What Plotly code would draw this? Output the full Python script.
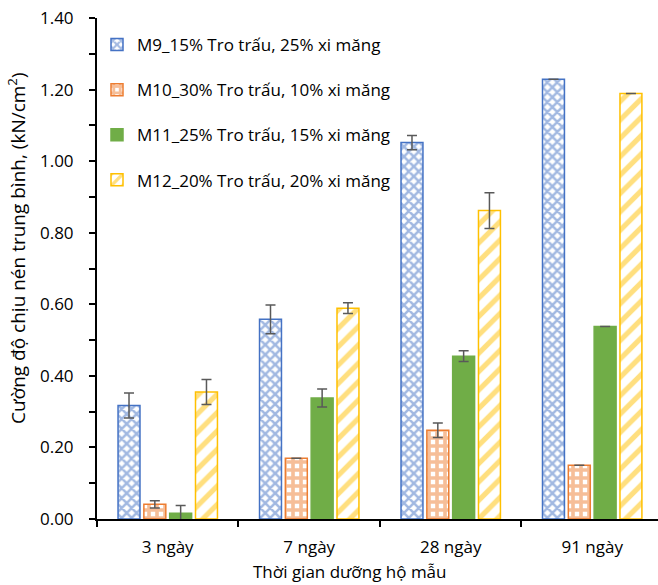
import plotly.graph_objects as go

categories = ["3 ngày", "7 ngày", "28 ngày", "91 ngày"]
series_names = [
    "M9_15% Tro trấu, 25% xi măng",
    "M10_30% Tro trấu, 10% xi măng",
    "M11_25% Tro trấu, 15% xi măng",
    "M12_20% Tro trấu, 20% xi măng",
]
m9 = [0.317, 0.558, 1.052, 1.229]
m9_err = [0.035, 0.040, 0.020, 0.0]
m10 = [0.041, 0.170, 0.248, 0.150]
m10_err = [0.010, 0.0, 0.020, 0.0]
m11 = [0.016, 0.338, 0.455, 0.538]
m11_err = [0.022, 0.025, 0.015, 0.0]
m12 = [0.355, 0.589, 0.862, 1.189]
m12_err = [0.035, 0.015, 0.050, 0.0]
x_title = "Thời gian dưỡng hộ mẫu"
y_title = "Cường độ chịu nén trung bình, (kN/cm<sup>2</sup>)"

values = [m9, m10, m11, m12]
errors = [m9_err, m10_err, m11_err, m12_err]
colors = ["#4472C4", "#ED7D31", "#70AD47", "#FFC000"]
patterns = [
    dict(shape="x", fgcolor="#4472C4", bgcolor="white", size=7, solidity=0.6),
    dict(shape="+", fgcolor="#ED7D31", bgcolor="white", size=8, solidity=0.7),
    dict(shape="", fgcolor="#70AD47"),
    dict(shape="/", fgcolor="#FFC000", bgcolor="white", size=13, solidity=0.4),
]

FONT = "Open Sans"
fig = go.Figure()
for i in range(4):
    fig.add_trace(go.Bar(
        x=categories, y=values[i], name=series_names[i],
        legendgroup=f"g{i}",
        marker=dict(color="white" if i != 2 else colors[i],
                    pattern=patterns[i],
                    line=dict(color=colors[i], width=1.5)),
        error_y=dict(type="data", array=errors[i], visible=True,
                     color="#595959", thickness=1.5, width=5),
    ))

fig.update_layout(
    width=658, height=585,
    margin=dict(l=97, r=0, t=18, b=66),
    paper_bgcolor="white", plot_bgcolor="white",
    font=dict(family=FONT, size=17, color="black"),
    barmode="group", bargap=0.27, bargroupgap=0.15,
    showlegend=True,
    legend=dict(x=0.0, y=0.982, xanchor="left", yanchor="top",
                bgcolor="rgba(0,0,0,0)", tracegroupgap=20,
                font=dict(family=FONT, size=17, color="black")),
    annotations=[
        dict(text=x_title, xref="paper", yref="paper",
             x=(350 - 97) / 561, y=-(571 - 519) / 501,
             xanchor="center", yanchor="middle", showarrow=False,
             font=dict(family=FONT, size=17, color="black")),
        dict(text=y_title, xref="paper", yref="paper",
             x=(17 - 97) / 561, y=(519 - 248) / 501, textangle=-90,
             xanchor="center", yanchor="middle", showarrow=False,
             font=dict(family=FONT, size=19, color="black")),
    ],
)
fig.update_xaxes(
    range=[-0.5, 3.465], showline=True, linecolor="black", linewidth=2,
    ticks="outside", tickson="boundaries", ticklen=6, tickwidth=1.5, tickcolor="black",
    ticklabelstandoff=12,
    showgrid=False, zeroline=False,
)
fig.update_yaxes(
    range=[0, 1.4], dtick=0.2, tickformat=".2f",
    showline=True, linecolor="black", linewidth=2,
    ticks="outside", ticklen=6, tickwidth=1.5, tickcolor="black",
    ticklabelstandoff=12,
    minor=dict(dtick=0.1, ticks="outside", ticklen=6, tickcolor="black", tickwidth=1.5),
    showgrid=False, zeroline=False,
)

fig.write_html("out.html")
